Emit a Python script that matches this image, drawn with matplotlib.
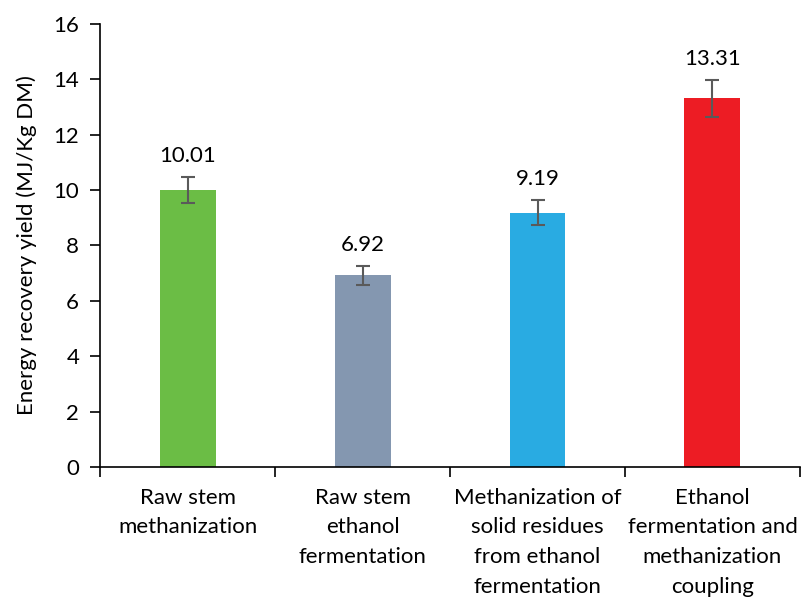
import matplotlib
matplotlib.use("Agg")
import matplotlib.pyplot as plt
from matplotlib.ticker import FixedLocator

categories = ["Raw stem\nmethanization", "Raw stem\nethanol\nfermentation",
              "Methanization of\nsolid residues\nfrom ethanol\nfermentation",
              "Ethanol\nfermentation and\nmethanization\ncoupling"]
values = [10.01, 6.92, 9.19, 13.31]
errors = [0.47, 0.34, 0.45, 0.66]
colors = ["#6BBD45", "#8497B0", "#29ABE2", "#ED1C24"]

plt.rcParams['font.family'] = ['Lato', 'DejaVu Sans']
fig = plt.figure(figsize=(8.02, 6.0), dpi=100)
ax = fig.add_axes([0.1247, 0.2217, 0.8728, 0.7383])

x = list(range(len(categories)))
ax.bar(x, values, width=0.32, color=colors, zorder=2)
ax.errorbar(x, values, yerr=errors, fmt='none', ecolor='#5a5a5a', elinewidth=1.5,
            capsize=5, capthick=1.5, zorder=3)
for xi, v, e in zip(x, values, errors):
    ax.annotate(f"{v:.2f}", (xi, v + e), xytext=(0, 8), textcoords='offset points',
                ha='center', va='bottom', fontsize=16)

ax.set_xlim(-0.5, len(categories) - 0.5)
ax.set_ylim(0, 16)
ax.set_yticks(range(0, 17, 2))
ax.set_xticks(x)
ax.set_xticklabels(categories, fontsize=16, linespacing=1.6, va='top')
ax.tick_params(axis='x', length=0, pad=15)
ax.xaxis.set_minor_locator(FixedLocator([i - 0.5 for i in range(len(categories) + 1)]))
ax.tick_params(axis='x', which='minor', length=7, width=1.2, direction='out')
ax.tick_params(axis='y', labelsize=16, length=7, width=1.2, direction='out', pad=8)
ax.set_ylabel("Energy recovery yield (MJ/Kg DM)", fontsize=16, labelpad=12)
for s in ['top', 'right']:
    ax.spines[s].set_visible(False)
for s in ['left', 'bottom']:
    ax.spines[s].set_linewidth(1.2)

fig.savefig("out.png", dpi=100)
